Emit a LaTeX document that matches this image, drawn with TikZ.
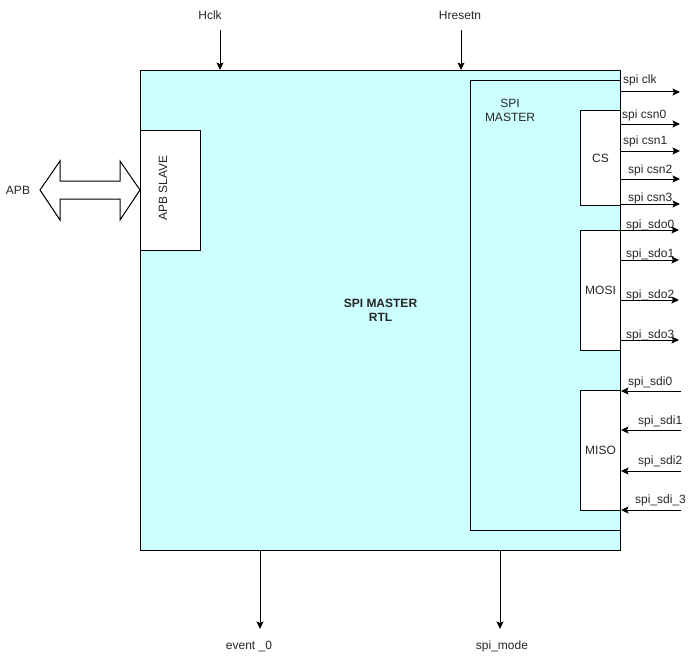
\documentclass[tikz,border=0pt]{standalone}
\usepackage{fontspec}
\setmainfont{Liberation Sans}
\usepackage{xcolor}
\definecolor{cFill}{HTML}{CCFFFF}
\definecolor{cLine}{HTML}{000000}
\definecolor{cText}{HTML}{262626}
\usetikzlibrary{positioning,arrows.meta}
\tikzset{
  block-main/.style={draw=cLine,line width=1pt,fill=cFill,anchor=north west,inner sep=0pt},
  block-sub/.style={draw=cLine,line width=1pt,fill=white,anchor=north west,inner sep=0pt},
  sig/.style={-{Stealth[length=7.5pt,width=7pt,inset=1.5pt]},line width=1pt,draw=cLine},
  bus/.style={line width=1pt,draw=cLine,fill=white,line join=miter},
  txt/.style={font=\fontsize{12}{14}\selectfont,text=cText,inner sep=0pt,align=center},
  txt-bold/.style={txt,font=\fontsize{12}{14}\selectfont\bfseries},
}

\begin{document}
\begin{tikzpicture}[x=1pt,y=-1pt]
  \useasboundingbox (0,0) rectangle (691,661);

  % outer RTL block and inner blocks
  \node[block-main,txt-bold,minimum width=480pt,minimum height=480pt] (rtl) at (140,70) {SPI MASTER\\RTL};
  \node[block-main,minimum width=150pt,minimum height=450pt] (master) at (470,80) {};
  \node[txt] (master-lbl) at (510,110) {SPI\\MASTER};
  \node[block-sub,txt,minimum width=40pt,minimum height=95pt] (cs) at (580,110) {CS};
  \node[block-sub,txt,minimum width=40pt,minimum height=120pt] (mosi) at (580,230) {MOSI};
  \node[block-sub,txt,minimum width=40pt,minimum height=120pt] (miso) at (580,390) {MISO};
  \node[block-sub,minimum width=60pt,minimum height=120pt] (apb-slave) at (140,130) {};
  \node[txt,rotate=90] (apb-slave-lbl) at (163,188) {APB SLAVE};

  % APB bus
  \draw[bus] (40,190) -- (60,161) -- (60,181) -- (120,181) -- (120,161) -- (apb-slave.west |- 0,190)
    -- (120,220) -- (120,199) -- (60,199) -- (60,220) -- cycle;
  \node[txt] (apb) at (18,190) {APB};

  % clock / reset
  \node[txt] (hclk) at (210,15) {Hclk};
  \coordinate (hclk-src) at (220,30);
  \draw[sig] (hclk-src) -- (rtl.north -| hclk-src);
  \node[txt] (hresetn) at (460,15) {Hresetn};
  \coordinate (hresetn-src) at (461,30);
  \draw[sig] (hresetn-src) -- (rtl.north -| hresetn-src);

  % outputs at the bottom
  \node[txt] (event) at (249,646) {event \_0};
  \coordinate (event-dst) at (260,629);
  \draw[sig] (rtl.south -| event-dst) -- (event-dst);
  \node[txt] (mode) at (502,646) {spi\_mode};
  \coordinate (mode-dst) at (500,629);
  \draw[sig] (rtl.south -| mode-dst) -- (mode-dst);

  % spi clk and chip selects
  \coordinate (clk-dst) at (680,92);
  \draw[sig] (master.east |- clk-dst) -- (clk-dst);
  \node[txt,anchor=base west] (clk-lbl) at (623,84) {spi clk};
  \foreach \name/\y/\lx/\ly in {csn0/124/622/118, csn1/151/623/144, csn2/179/628/173, csn3/204/628/201} {
    \coordinate (\name-dst) at (680,\y);
    \draw[sig] (cs.east |- \name-dst) -- (\name-dst);
    \node[txt,anchor=base west] (\name-lbl) at (\lx,\ly) {spi \name};
  }

  % data out
  \foreach \name/\y/\ly in {sdo0/230/228, sdo1/260/257, sdo2/300/298, sdo3/340/338} {
    \coordinate (\name-dst) at (679,\y);
    \draw[sig] (mosi.east |- \name-dst) -- (\name-dst);
    \node[txt,anchor=base west] (\name-lbl) at (626,\ly) {spi\_\name};
  }

  % data in
  \foreach \name/\txt/\y/\lx/\ly in {sdi0/spi\_sdi0/391/628/385, sdi1/spi\_sdi1/430/638/424,
      sdi2/spi\_sdi2/471/638/464, sdi3/spi\_sdi\_3/510/635/503} {
    \coordinate (\name-src) at (681,\y);
    \draw[sig] (\name-src) -- (miso.east |- \name-src);
    \node[txt,anchor=base west] (\name-lbl) at (\lx,\ly) {\txt};
  }
\end{tikzpicture}
\end{document}
